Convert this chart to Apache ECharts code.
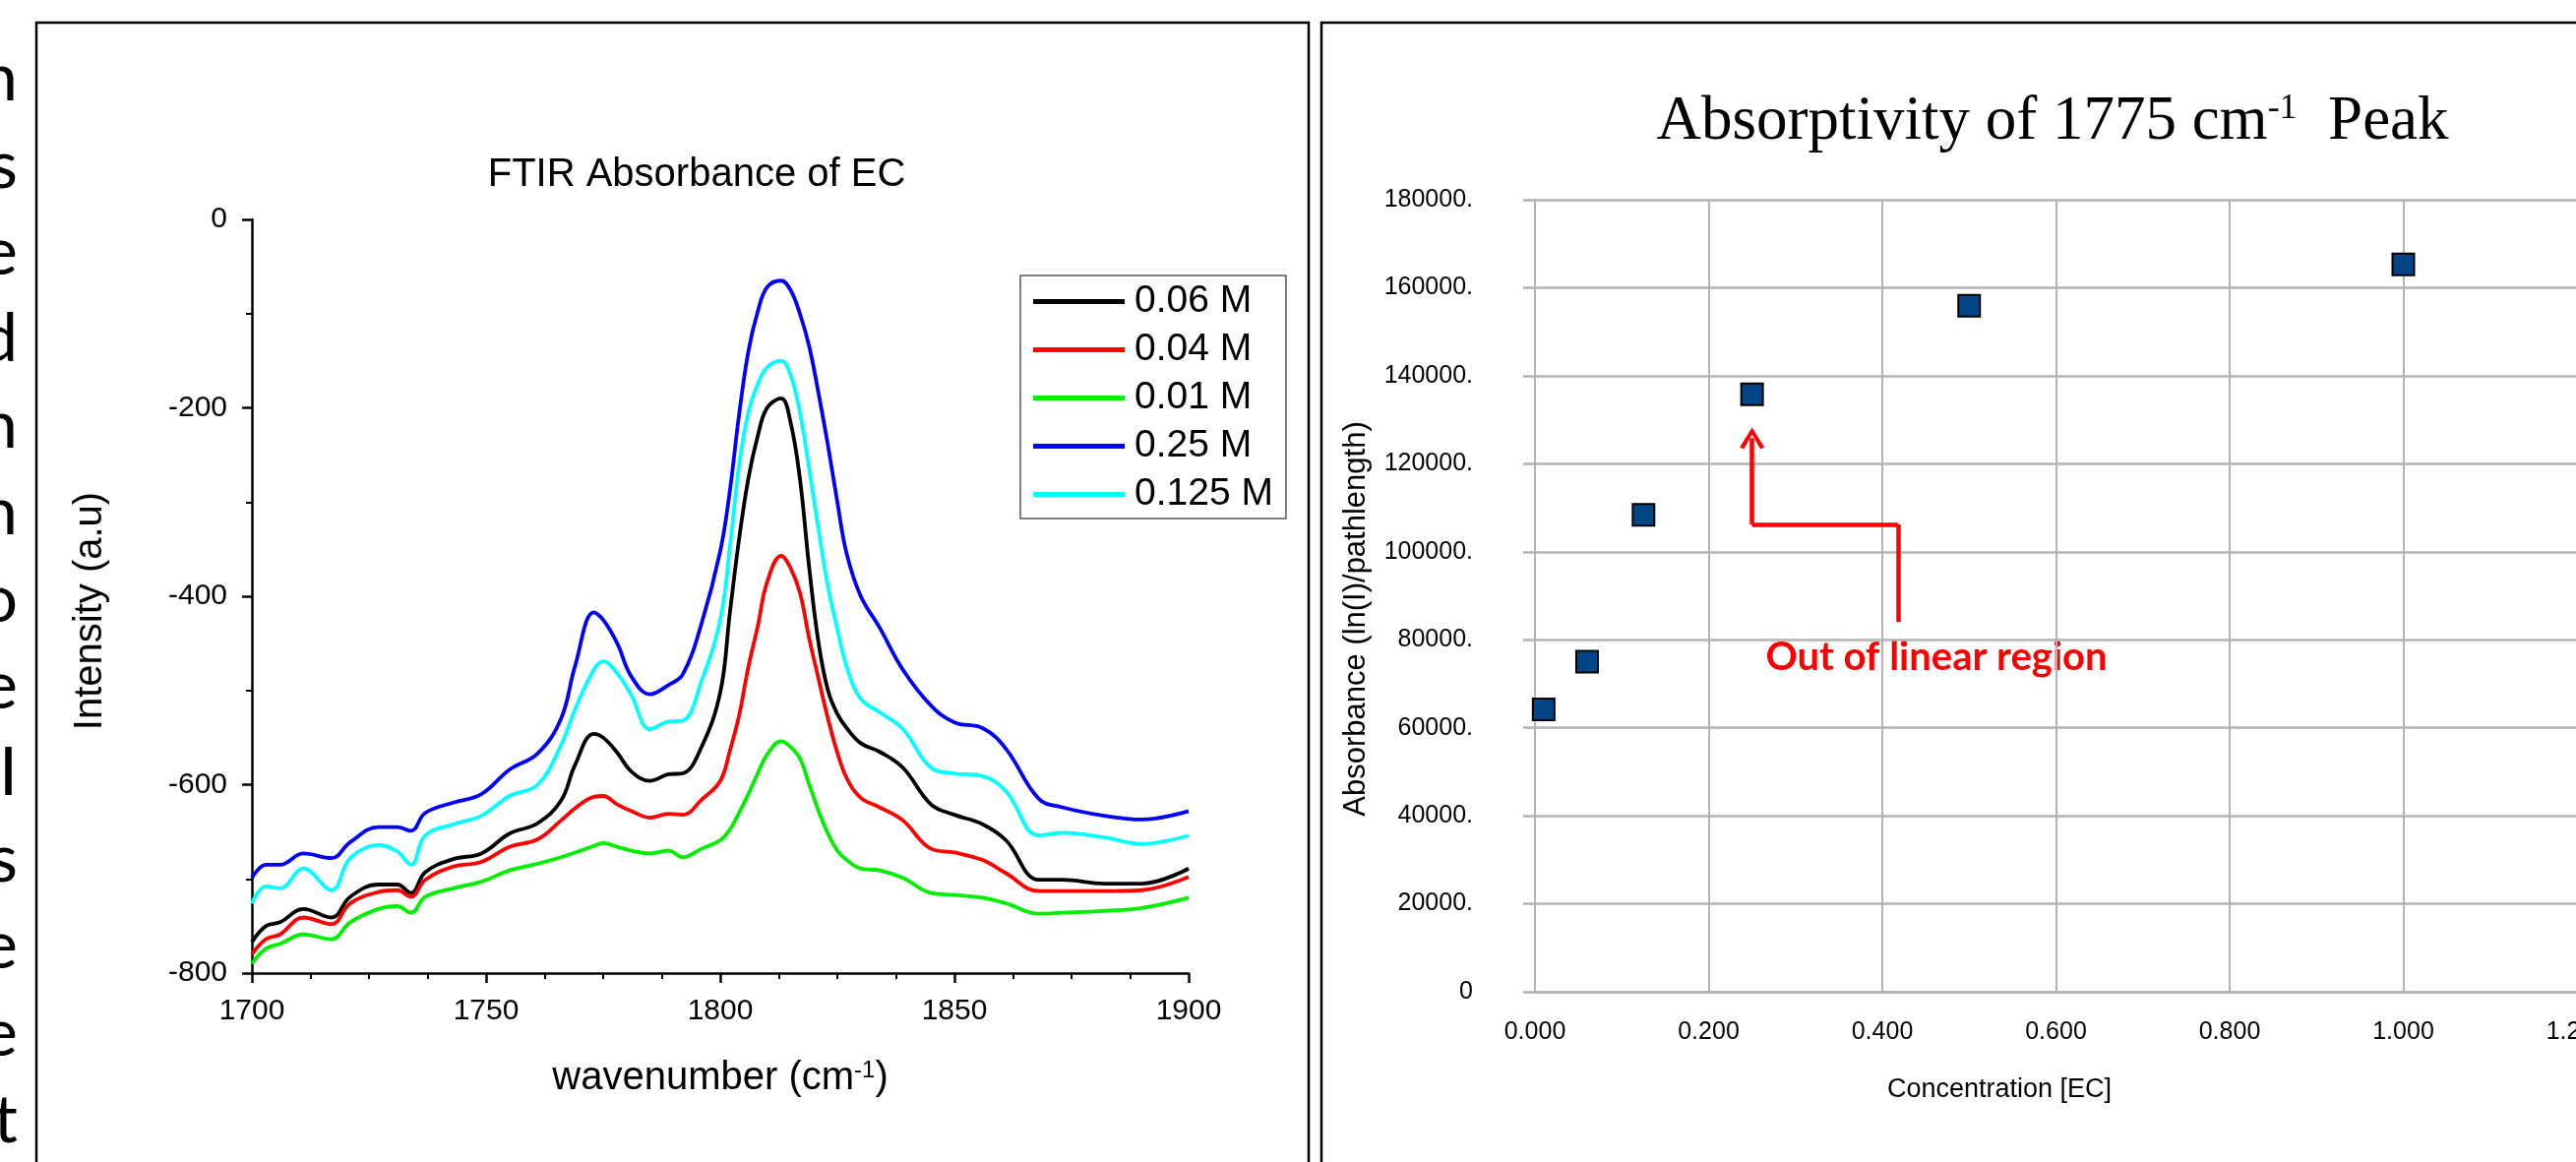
<!DOCTYPE html>
<html>
<head>
<meta charset="utf-8">
<script src="https://cdn.jsdelivr.net/npm/echarts@6/dist/echarts.min.js"></script>
<style>
  html, body { margin: 0; padding: 0; background: #fff; }
  #chart { width: 2618px; height: 1181px; }
</style>
</head>
<body>
<div id="chart"></div>
<script>
// left panel: FTIR spectra, one array of intensities per concentration
const wavenumbers = [1700, 1703, 1706, 1711, 1717, 1721, 1727, 1731, 1734, 1737, 1743, 1749, 1755, 1761,
  1766, 1769, 1773, 1775, 1778, 1781, 1785, 1789, 1792, 1796, 1800, 1802, 1804, 1806, 1808, 1810,
  1813, 1815, 1817, 1819, 1821, 1823, 1825, 1827, 1830, 1834, 1839, 1845, 1850, 1856, 1861, 1868,
  1873, 1882, 1890, 1900];
const int006 = [-767, -750, -746, -732, -741, -719, -706, -706, -715, -693, -679, -673, -652, -641,
  -617, -579, -546, -550, -566, -586, -596, -589, -588, -560, -502, -420, -340, -275, -230, -200,
  -190, -215, -275, -370, -450, -500, -525, -540, -556, -565, -582, -621, -632, -642, -659, -701,
  -701, -705, -705, -689];
const int004 = [-780, -764, -759, -741, -748, -726, -714, -712, -719, -701, -687, -682, -666, -658,
  -638, -625, -613, -612, -621, -628, -635, -631, -632, -616, -596, -565, -527, -475, -432, -385,
  -357, -370, -396, -445, -488, -530, -566, -593, -614, -624, -638, -668, -672, -680, -694, -713,
  -713, -713, -712, -698];
const int001 = [-790, -774, -769, -759, -764, -746, -732, -729, -736, -719, -710, -703, -691, -684,
  -677, -672, -665, -662, -666, -670, -673, -670, -677, -668, -659, -648, -630, -610, -588, -568,
  -554, -560, -572, -600, -628, -652, -670, -680, -689, -691, -699, -715, -717, -720, -726, -737,
  -736, -734, -731, -720];
const int025 = [-699, -685, -685, -673, -678, -661, -645, -645, -649, -630, -619, -610, -584, -567,
  -530, -474, -417, -425, -450, -485, -504, -494, -483, -429, -352, -290, -208, -140, -98, -72,
  -65, -75, -100, -135, -185, -240, -300, -355, -400, -433, -478, -516, -534, -540, -562, -615,
  -624, -633, -637, -628];
const int0125 = [-726, -708, -710, -689, -712, -678, -664, -671, -685, -654, -642, -633, -612, -600,
  -558, -520, -478, -469, -482, -505, -541, -533, -532, -490, -425, -350, -262, -205, -175, -157,
  -150, -165, -205, -265, -330, -390, -435, -475, -509, -523, -541, -582, -588, -591, -607, -654,
  -651, -656, -663, -654];
const spectraNames = ["0.06 M", "0.04 M", "0.01 M", "0.25 M", "0.125 M"];
const spectraColors = ["#000000", "#ff0000", "#00ee00", "#0000ff", "#00ffff"];

// right panel: absorptivity vs concentration
const concentration = [0.01, 0.06, 0.125, 0.25, 0.5, 1.0];
const absorbance = [64200, 75000, 108400, 135800, 155900, 165300];

// text column cut off at the left edge of the slide
const sideLetters = ["n", "s", "e", "d", "n", "n", "o", "e", "I", "s", "e", "e", "t"];

const sans = "'Liberation Sans', Arial, sans-serif";

const chart = echarts.init(document.getElementById("chart"));

const spectra = [int006, int004, int001, int025, int0125];
const lineSeries = spectra.map((ys, i) => ({
  name: spectraNames[i],
  type: "line",
  xAxisIndex: 0,
  yAxisIndex: 0,
  showSymbol: false,
  smooth: 0.4,
  color: spectraColors[i],
  itemStyle: { color: spectraColors[i] },
  lineStyle: { width: 3.8, color: spectraColors[i] },
  data: wavenumbers.map((w, j) => [w, ys[j]]),
}));

// little open chevron used as arrow head
const chevron = "path://M0,20 L12.5,0 L25,20 L21,22 L12.5,7 L4,22 Z";

const letterEls = sideLetters.map((ch, i) => ({
  type: "text",
  x: 18,
  y: 80.5 + i * 88.2,
  style: {
    text: ch, fontFamily: "Lato, 'Open Sans', sans-serif", fontSize: 68,
    fill: "#000", align: "right", verticalAlign: "middle",
  },
}));

const option = {
  animation: false,
  backgroundColor: "#fff",
  grid: [
    { left: 256, top: 223, width: 952, height: 766, outerBoundsMode: "none" },
    { left: 1560, top: 203, width: 1059, height: 805, outerBoundsMode: "none" },
  ],
  legend: {
    data: spectraNames,
    orient: "vertical",
    left: 1037,
    top: 280,
    padding: [7, 13, 5, 13],
    borderColor: "#555",
    borderWidth: 1.5,
    itemWidth: 93,
    itemHeight: 5,
    itemGap: 10,
    icon: "rect",
    textStyle: { fontSize: 39, fontFamily: sans, color: "#000", padding: [0, 0, 0, 5] },
  },
  xAxis: [
    {
      gridIndex: 0, type: "value", min: 1700, max: 1900, interval: 50,
      name: "{a|wavenumber (cm}{s|-1}{a|)}",
      nameLocation: "middle", nameGap: 87,
      nameTextStyle: {
        rich: {
          a: { fontSize: 40, fontFamily: sans, color: "#000" },
          s: { fontSize: 24, fontFamily: sans, color: "#000", verticalAlign: "top" },
        },
      },
      axisLine: { show: true, onZero: false, lineStyle: { color: "#000", width: 2.5 } },
      axisTick: { show: true, length: 10, lineStyle: { color: "#000", width: 2.5 } },
      minorTick: { show: true, splitNumber: 4, length: 6, lineStyle: { color: "#000", width: 2 } },
      splitLine: { show: false },
      axisLabel: { fontSize: 30, fontFamily: sans, color: "#000", margin: 24, formatter: (v) => String(v) },
    },
    {
      gridIndex: 1, type: "value", min: 0, max: 1.2, interval: 0.2,
      axisLine: { show: true, onZero: false, lineStyle: { color: "#b3b3b3", width: 2.5 } },
      axisTick: { show: false },
      splitLine: { show: true, lineStyle: { color: "#b3b3b3", width: 2 } },
      axisLabel: {
        fontSize: 25, fontFamily: sans, color: "#000", margin: 29,
        formatter: (v) => v.toFixed(3),
      },
      name: "Concentration [EC]",
      nameLocation: "middle", nameGap: 86,
      nameTextStyle: { fontSize: 27, fontFamily: sans, color: "#000", padding: [0, 115, 0, 0] },
    },
  ],
  yAxis: [
    {
      gridIndex: 0, type: "value", min: -800, max: 0, interval: 200,
      name: "Intensity (a.u)",
      nameLocation: "middle", nameGap: 144, nameRotate: 90,
      nameTextStyle: { fontSize: 40, fontFamily: sans, color: "#000", padding: [0, 30, 0, 0] },
      axisLine: { show: true, onZero: false, lineStyle: { color: "#000", width: 2.5 } },
      axisTick: { show: true, length: 10, lineStyle: { color: "#000", width: 2.5 } },
      minorTick: { show: true, splitNumber: 2, length: 6, lineStyle: { color: "#000", width: 2 } },
      splitLine: { show: false },
      axisLabel: { fontSize: 30, fontFamily: sans, color: "#000", margin: 25 },
    },
    {
      gridIndex: 1, type: "value", min: 0, max: 180000, interval: 20000,
      name: "Absorbance (ln(I)/pathlength)",
      nameLocation: "middle", nameGap: 166, nameRotate: 90,
      nameTextStyle: { fontSize: 31, fontFamily: sans, color: "#000", padding: [0, 47, 0, 0] },
      axisLine: { show: true, onZero: false, lineStyle: { color: "#b3b3b3", width: 2 } },
      axisTick: { show: true, length: 12, lineStyle: { color: "#b3b3b3", width: 2.5 } },
      splitLine: { show: true, lineStyle: { color: "#b3b3b3", width: 2.5 } },
      axisLabel: {
        fontSize: 25, fontFamily: sans, color: "#000", margin: 63,
        formatter: (v) => (v === 0 ? "0" : v + "."),
      },
    },
  ],
  series: [
    ...lineSeries,
    {
      name: "Absorptivity",
      type: "scatter",
      xAxisIndex: 1,
      yAxisIndex: 1,
      symbol: "rect",
      symbolSize: 22,
      itemStyle: { color: "#004586", borderColor: "#000", borderWidth: 2, opacity: 1 },
      data: concentration.map((c, i) => [c, absorbance[i]]),
      markLine: {
        silent: true,
        symbol: ["none", "none"],
        label: { show: false },
        lineStyle: { color: "#ff0000", width: 4.5, type: "solid" },
        data: [
          [{ coord: [0.418, 84000] }, { coord: [0.418, 106200] }],
          [{ coord: [0.418, 106200] }, { coord: [0.25, 106200] }],
          [{ coord: [0.25, 106200] }, { coord: [0.25, 125800], symbol: chevron, symbolSize: [25, 22] }],
        ],
      },
    },
  ],
  graphic: {
    elements: [
      {
        type: "rect", shape: { x: 37, y: 23, width: 1293, height: 1250 },
        style: { fill: "none", stroke: "#000", lineWidth: 2.5 },
      },
      {
        type: "rect", shape: { x: 1343, y: 23, width: 1400, height: 1250 },
        style: { fill: "none", stroke: "#000", lineWidth: 2.5 },
      },
      ...letterEls,
      {
        type: "text", x: 708, y: 178,
        style: {
          text: "FTIR Absorbance of EC", fontSize: 40, fontFamily: sans, fill: "#000",
          align: "center", verticalAlign: "middle",
        },
      },
      {
        type: "text", x: 2086, y: 124,
        style: {
          text: "{a|Absorptivity of 1775 cm}{s|-1}{a|  Peak}",
          align: "center", verticalAlign: "middle", fill: "#000",
          rich: {
            a: { fontSize: 63, fontFamily: "'Liberation Serif', 'Times New Roman', serif", fill: "#000" },
            s: { fontSize: 36, fontFamily: "'Liberation Serif', 'Times New Roman', serif", fill: "#000", verticalAlign: "top" },
          },
        },
      },
      {
        type: "text", x: 1968, y: 668,
        style: {
          text: "Out of linear region", fontSize: 40, fontWeight: "bold",
          fontFamily: "Lato, 'Open Sans', sans-serif", fill: "#ff0000",
          align: "center", verticalAlign: "middle",
        },
      },
    ],
  },
};

chart.setOption(option);
</script>
</body>
</html>
